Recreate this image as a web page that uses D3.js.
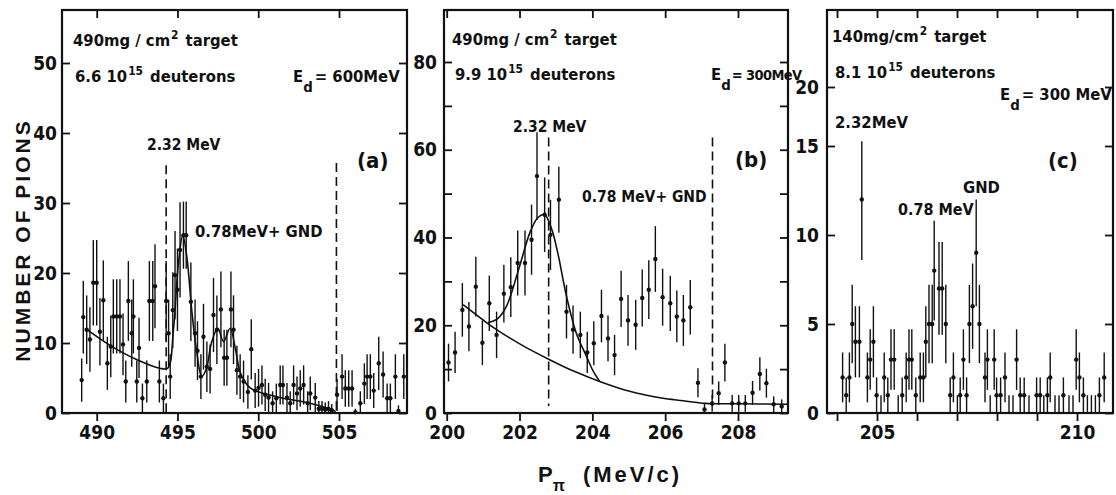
<!DOCTYPE html>
<html><head><meta charset="utf-8">
<script src="https://cdn.jsdelivr.net/npm/d3@7"></script>
<style>
body{margin:0;background:#fff}
svg text{font-family:"Liberation Sans Narrow","DejaVu Sans Condensed",sans-serif;font-weight:bold;fill:#111}
</style></head><body>
<svg id="chart" width="1116" height="495"></svg>
<script>
// ---------- DATA (momentum MeV/c, counts, error) ----------
const aData = [
[489.07,4.7,3.1],[489.17,13.7,5.2],[489.38,11.9,4.9],[489.58,10.5,4.6],[489.79,18.6,6.1],[490.0,18.6,6.1],[490.2,11.6,4.8],[490.41,16.1,5.7],[490.66,7.1,3.8],[490.87,9.5,4.4],[491.03,13.8,5.3],[491.24,13.8,5.3],[491.44,13.8,5.3],[491.63,9.8,4.4],[491.8,4.5,3.0],[491.96,16.0,5.7],[492.17,11.4,4.8],[492.27,13.8,5.3],[492.48,4.5,3.0],[492.62,9.3,4.3],[492.83,2.1,2.1],[493.1,4.5,3.0],[493.26,16.0,5.7],[493.47,16.0,5.7],[493.61,18.1,6.0],[493.88,4.5,3.0],[494.13,2.1,2.1],[494.3,16.0,5.7],[494.45,11.4,4.8],[494.55,5.2,3.2],[494.71,14.7,5.4],[494.85,19.7,6.3],[495.0,17.6,5.9],[495.16,23.3,6.8],[495.37,25.4,4.8],[495.54,25.4,4.8],[495.83,15.9,5.6],[496.09,11.4,4.8],[496.24,8.9,4.2],[496.45,5.2,3.2],[496.61,10.9,4.7],[496.82,6.6,3.6],[497.02,6.3,3.5],[497.23,14.0,5.3],[497.44,11.9,4.9],[497.69,14.8,5.4],[497.89,7.9,4.0],[498.06,7.9,4.0],[498.31,14.8,5.4],[498.47,11.9,4.9],[498.68,6.1,3.5],[498.88,5.2,3.2],[499.09,4.5,3.0],[499.36,3.0,2.4],[499.57,9.1,4.3],[499.81,3.2,2.5],[500.02,3.6,2.7],[500.23,4.0,2.8],[500.43,2.6,2.3],[500.64,2.2,2.1],[500.89,1.4,1.7],[501.12,2.1,2.1],[501.36,4.0,2.8],[501.53,4.0,2.8],[501.78,2.2,2.1],[501.98,1.4,1.7],[502.19,4.0,2.8],[502.4,2.8,2.4],[502.6,3.5,2.6],[502.81,4.0,2.8],[503.06,1.4,1.7],[503.22,2.8,2.4],[503.53,2.2,2.1],[503.75,0.6,1.1],[503.95,0.6,1.1],[504.15,0.5,1.0],[504.35,0.6,1.1],[504.55,0.4,0.9],[504.88,2.6,2.3],[505.19,5.2,3.2],[505.39,3.5,2.6],[505.6,3.5,2.6],[505.81,3.5,2.6],[506.01,0.1,0.5],[506.32,1.4,1.7],[506.57,4.2,2.9],[506.74,5.2,3.2],[506.94,5.2,3.2],[507.15,3.2,2.5],[507.46,7.1,3.8],[507.73,5.5,3.3],[507.98,2.1,2.1],[508.18,2.1,2.1],[508.49,5.2,3.2],[508.68,0.3,0.8],[509.01,5.2,3.2]
];
const aFit = [[489.4,11.9],[490.8,9.7],[492.5,7.6],[493.9,6.4],[494.4,6.4],[494.75,11.9],[495.06,21.4],[495.33,25.4],[495.58,22.3],[495.9,14.3],[496.2,8.6],[496.5,5.2],[496.8,6.4],[497.1,10.0],[497.5,12.1],[497.85,10.2],[498.26,12.1],[498.6,9.0],[498.9,5.7],[499.5,3.6],[501.2,2.3],[503.2,1.4],[504.26,0.7],[504.8,0.2]];
const aMarkers = [[494.3,35.4],[504.84,35.7]];

const bData = [
[200.05,11.5,4.3],[200.23,13.8,4.7],[200.43,23.5,6.1],[200.61,19.7,5.6],[200.8,28.8,6.8],[200.98,16.0,5.1],[201.17,25.0,6.3],[201.37,17.8,5.3],[201.57,27.2,6.6],[201.76,28.7,6.8],[201.95,34.2,7.4],[202.15,34.2,7.4],[202.33,39.5,8.0],[202.48,54.0,10.0],[202.69,45.2,8.5],[202.85,40.6,8.0],[203.08,48.6,7.5],[203.29,23.1,6.1],[203.47,19.0,5.5],[203.67,17.8,5.3],[203.86,13.8,4.7],[204.04,15.9,5.0],[204.25,22.1,6.0],[204.43,17.0,5.2],[204.61,13.2,4.6],[204.79,26.0,6.4],[204.98,21.1,5.8],[205.19,20.1,5.7],[205.37,26.2,6.5],[205.55,28.1,6.7],[205.73,35.1,7.5],[205.93,26.4,6.5],[206.14,25.0,6.3],[206.32,22.0,5.9],[206.5,21.1,5.8],[206.69,24.1,6.2],[206.9,6.9,3.3],[207.08,0.8,1.5],[207.29,2.2,1.9],[207.47,4.5,2.7],[207.64,11.5,4.3],[207.84,2.2,1.9],[208.02,2.2,1.9],[208.2,2.2,1.9],[208.4,4.6,2.7],[208.6,8.9,3.8],[208.78,6.8,3.3],[208.98,2.0,1.8],[209.2,1.5,1.6]
];
const bBackground = [[200.45,24.7],[201.0,21.2],[201.37,19.0],[202.1,15.3],[202.84,12.1],[203.5,9.5],[204.2,7.2],[205.0,5.0],[205.9,3.4],[206.5,2.8],[207.1,2.2],[208.0,2.1],[209.4,2.0]];
const bPeak = [[201.14,20.6],[201.4,21.5],[201.64,24.3],[202.0,33.4],[202.28,41.0],[202.5,44.5],[202.69,45.2],[202.88,42.0],[203.05,36.5],[203.29,26.6],[203.56,18.2],[203.84,12.9],[204.02,9.6],[204.2,7.2]];
const bMarkers = [[202.8,62.8],[207.3,62.8]];

const cData = [
[204.14,2,1.4],[204.23,1,1],[204.31,2,1.4],[204.38,5,2.2],[204.46,4,2],[204.56,4,2],[204.62,12,3.4],[204.76,2,1.4],[204.83,3,1.7],[204.91,4,2],[204.99,1,1],[205.1,0,1],[205.18,2,1.4],[205.27,1,1],[205.35,3,1.7],[205.43,3,1.7],[205.53,0,1],[205.63,1,1],[205.73,2,1.4],[205.8,3,1.7],[205.87,3,1.7],[205.97,1,1],[206.08,2,1.4],[206.16,2,1.4],[206.22,4,2],[206.3,5,2.2],[206.38,5,2.2],[206.43,8,2.8],[206.55,7,2.6],[206.63,7,2.6],[206.72,5,2.2],[206.83,1,1],[206.91,2,1.4],[207.01,0,1],[207.08,1,1],[207.16,3,1.7],[207.24,1,1],[207.31,5,2.2],[207.39,6,2.4],[207.48,9,3],[207.56,5,2.2],[207.7,2,1.4],[207.76,3,1.7],[207.83,0,1],[207.93,3,1.7],[207.99,1,1],[208.09,1,1],[208.2,2,1.4],[208.3,0,1],[208.4,0,1],[208.49,3,1.7],[208.58,1,1],[208.68,1,1],[208.8,0,1],[208.99,1,1],[209.08,1,1],[209.17,0,1],[209.26,1,1],[209.33,2,1.4],[209.45,0,1],[209.55,0,1],[209.66,1,1],[209.8,0,1],[209.9,0,1],[209.98,3,1.7],[210.06,2,1.4],[210.16,1,1],[210.26,0,1],[210.36,0,1],[210.46,0,1],[210.56,1,1],[210.68,2,1.4]
];

const aXTicks = [490,495,500,505];
const aYTicks = [0,10,20,30,40,50];
const bXTicks = [200,202,204,206,208];
const bYTicks = [0,10,20,30,40,50,60,70,80];
const bYLabels = [0,20,40,60,80];
const cXTicks = [204,205,206,207,208,209,210];
const cXLabels = [205,210];
const cYTicks = [0,5,10,15,20];

// ---------- LAYOUT ----------
const TOP = 10, BOTTOM = 413;
const svg = d3.select('#chart');

const xA = d3.scaleLinear().domain([490,505]).range([96.7,339]);
const yA = d3.scaleLinear().domain([0,50]).range([BOTTOM,63]);
const xB = d3.scaleLinear().domain([200,208]).range([446.7,738]);
const yB = d3.scaleLinear().domain([0,80]).range([BOTTOM,62]);
const xC = d3.scaleLinear().domain([205,210]).range([877,1077]);
const yC = d3.scaleLinear().domain([0,5,10,15,20]).range([BOTTOM,324,235,146,87]);

function panel(o){
  const g = svg.append('g');
  const L = o.left, R = o.right;
  const clean = sel => { sel.attr('font-size',null).attr('font-family',null); sel.select('.domain').remove(); sel.selectAll('line').attr('stroke','#111').attr('stroke-width',1.8); };
  g.append('g').attr('transform',`translate(0,${BOTTOM})`)
    .call(d3.axisBottom(o.x).tickValues(o.xTicks).tickSize(8).tickPadding(5)
      .tickFormat(d => o.xLabels.includes(d) ? d3.format('d')(d) : ''))
    .call(clean).selectAll('text').attr('font-size',19);
  g.append('g').attr('transform',`translate(0,${TOP})`)
    .call(d3.axisTop(o.x).tickValues(o.xTicks).tickSize(-8).tickFormat(''))
    .call(clean);
  g.append('g').attr('transform',`translate(${L},0)`)
    .call(d3.axisLeft(o.y).tickValues(o.yTicks).tickSize(-8).tickPadding(o.yPad)
      .tickFormat(d => o.yLabels.includes(d) ? d3.format('d')(d) : ''))
    .call(clean).selectAll('text').attr('font-size',19);
  g.append('g').attr('transform',`translate(${R},0)`)
    .call(d3.axisRight(o.y).tickValues(o.yTicks).tickSize(-8).tickFormat(''))
    .call(clean);
  g.append('rect').attr('x',L).attr('y',TOP).attr('width',R-L).attr('height',BOTTOM-TOP)
    .attr('fill','none').attr('stroke','#111').attr('stroke-width',2.2);
  g.append('g').selectAll('line').data(o.data).join('line')
    .attr('x1',d=>o.x(d[0])).attr('x2',d=>o.x(d[0]))
    .attr('y1',d=>o.y(Math.max(0,d[1]-d[2]))).attr('y2',d=>o.y(d[1]+d[2]))
    .attr('stroke','#111').attr('stroke-width',1.4);
  const line = d3.line().x(d=>o.x(d[0])).y(d=>o.y(d[1])).curve(d3.curveCatmullRom.alpha(0.5));
  (o.curves||[]).forEach(c => g.append('path').attr('d',line(c)).attr('fill','none')
    .attr('stroke','#111').attr('stroke-width',1.6));
  g.append('g').selectAll('circle').data(o.data.filter(d=>d[1]>0.05)).join('circle')
    .attr('cx',d=>o.x(d[0])).attr('cy',d=>o.y(d[1])).attr('r',2.2).attr('fill','#111');
  (o.markers||[]).forEach(m => g.append('line')
    .attr('x1',o.x(m[0])).attr('x2',o.x(m[0])).attr('y1',o.y(m[1])).attr('y2',o.y(o.markerBottom))
    .attr('stroke','#111').attr('stroke-width',1.6).attr('stroke-dasharray','9,5'));
  return g;
}

panel({x:xA,y:yA,left:62,right:407,xTicks:aXTicks,xLabels:aXTicks,yTicks:aYTicks,yLabels:aYTicks,yPad:5,
  data:aData,curves:[aFit],markers:aMarkers,markerBottom:0});
panel({x:xB,y:yB,left:444,right:788,xTicks:bXTicks,xLabels:bXTicks,yTicks:bYTicks,yLabels:bYLabels,yPad:7,
  data:bData,curves:[bBackground,bPeak],markers:bMarkers,markerBottom:1.6});
panel({x:xC,y:yC,left:827,right:1113,xTicks:cXTicks,xLabels:cXLabels,yTicks:cYTicks,yLabels:cYTicks,yPad:8,
  data:cData,curves:[],markers:[],markerBottom:0});

// ---------- TEXT ----------
// parts: [string, kind ('sup'|'sub'|''), dx, fontSize override, letterSpacing]
function rich(x, y, size, parts){
  const t = svg.append('text').attr('x',x).attr('y',y).attr('font-size',size);
  let shift = 0;
  parts.forEach(([s,k,dx,fs,ls]) => {
    const target = k==='sup' ? -size*0.42 : k==='sub' ? size*0.62 : 0;
    const ts = t.append('tspan').text(s).attr('dy', target-shift)
      .attr('font-size', fs || (k==='sup' ? size*0.72 : k==='sub' ? size*0.9 : size));
    if (dx) ts.attr('dx', dx);
    if (ls) ts.style('letter-spacing', ls);
    shift = target;
  });
  return t;
}
const F = 16.5;
// panel a
rich(73,46,F,[["490mg / cm"],["2","sup",1],["target","",7]]);
rich(75,82,F,[["6.6 10"],["15","sup",1]]);
rich(150,82,F,[["deuterons"]]);
rich(293,82,F,[["E"],["d","sub"],["= 600MeV","",2]]);
rich(147,150,15.5,[["2.32 MeV"]]);
rich(357,168,22,[["(a)"]]);
rich(195,237,F,[["0.78MeV+ GND"]]);
// panel b
rich(452,45,F,[["490mg / cm"],["2","sup",1],["target","",7]]);
rich(455,80,F,[["9.9 10"],["15","sup",1]]);
rich(530,80,F,[["deuterons"]]);
rich(711,80,F,[["E"],["d","sub"],["= 300MeV","",1,14.5,"-0.6px"]]);
rich(513,132,15.5,[["2.32 MeV"]]);
rich(735,167,22,[["(b)"]]);
rich(582,202,15.5,[["0.78 MeV+ GND"]]);
// panel c
rich(832,42,F,[["140mg/cm"],["2","sup",1],["target","",7]]);
rich(835,78,F,[["8.1 10"],["15","sup",1]]);
rich(910,78,F,[["deuterons"]]);
rich(1000,100,F,[["E"],["d","sub"],["= 300 MeV","",2]]);
rich(835,128,F,[["2.32MeV"]]);
rich(1048,168,22,[["(c)"]]);
rich(963,193,F,[["GND"]]);
rich(898,215,16,[["0.78 MeV"]]);

// axis titles
svg.append('text').attr('transform','translate(30,240) rotate(-90)').attr('text-anchor','middle')
  .attr('font-size',21).style('font-family','"Liberation Sans","DejaVu Sans",sans-serif')
  .style('letter-spacing','3px').text('NUMBER  OF  PIONS');
const xt = svg.append('text').attr('x',538).attr('y',482).attr('font-size',22)
  .style('font-family','"Liberation Sans","DejaVu Sans",sans-serif');
xt.append('tspan').text('P');
xt.append('tspan').attr('dy',9).attr('font-size',16).text('π');
xt.append('tspan').attr('dy',-9).attr('dx',18).style('letter-spacing','3px').text('(MeV/c)');
</script></body></html>
